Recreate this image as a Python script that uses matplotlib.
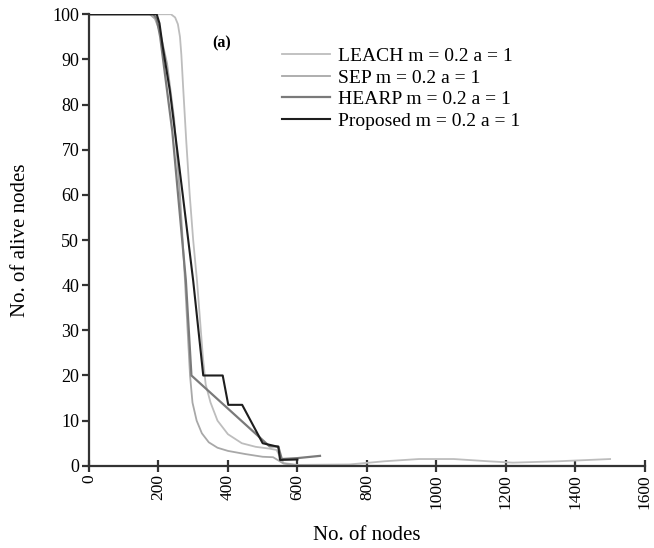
import matplotlib
matplotlib.use("Agg")
import matplotlib.pyplot as plt

plt.rcParams['font.family'] = ['Liberation Serif', 'DejaVu Serif']

# Data
leach_x = [0, 236, 248, 256, 262, 266, 271, 280, 290, 300, 311, 320, 328, 336, 350, 370, 400, 440, 480, 520, 540, 550, 560, 600, 750, 850, 950, 1050, 1150, 1220, 1350, 1500]
leach_y = [100, 100, 99.3, 97.8, 95, 91, 84, 72, 60, 50, 41, 32, 24, 18, 14, 10, 7, 5, 4.2, 3.8, 3.5, 2.0, 0.6, 0.2, 0.3, 1.0, 1.5, 1.5, 1.0, 0.7, 1.0, 1.5]

sep_x = [0, 175, 190, 205, 225, 245, 262, 275, 284, 291, 298, 310, 325, 345, 370, 400, 450, 500, 530, 545, 560, 600, 800, 1000, 1200, 1400]
sep_y = [100, 100, 99, 96, 89, 77, 60, 43, 30, 20, 14, 10, 7.2, 5.2, 4.0, 3.3, 2.6, 2.0, 1.9, 1.2, 0.5, 0.1, 0, 0, 0, 0]

hearp_x = [0, 185, 195, 205, 240, 279, 295, 520, 545, 555, 600, 665]
hearp_y = [100, 100, 99, 95, 74, 41, 20, 4.3, 4.3, 1.5, 1.7, 2.2]

prop_x = [0, 195, 203, 212, 233, 270, 300, 329, 385, 401, 441, 500, 545, 550, 600]
prop_y = [100, 100, 98, 93, 83, 60, 41, 20, 20, 13.5, 13.5, 5.0, 4.2, 1.3, 1.4]

labels = ["LEACH m = 0.2 a = 1", "SEP m = 0.2 a = 1", "HEARP m = 0.2 a = 1", "Proposed m = 0.2 a = 1"]
xticks = [0, 200, 400, 600, 800, 1000, 1200, 1400, 1600]
yticks = [0, 10, 20, 30, 40, 50, 60, 70, 80, 90, 100]

fig = plt.figure(figsize=(6.54, 5.48), dpi=100)
ax = fig.add_axes([0.136, 0.150, 0.850, 0.824])

ax.plot(leach_x, leach_y, color='#bdbdbd', lw=1.3, label=labels[0])
ax.plot(sep_x, sep_y, color='#a8a8a8', lw=1.3, label=labels[1])
ax.plot(hearp_x, hearp_y, color='#7a7a7a', lw=1.6, label=labels[2])
ax.plot(prop_x, prop_y, color='#1e1e1e', lw=1.5, label=labels[3])

ax.set_xlim(0, 1600)
ax.set_ylim(0, 100)
ax.set_xticks(xticks)
ax.set_yticks(yticks)
ax.set_xticklabels([str(v) for v in xticks], rotation=90, fontsize=12.5)
ax.set_yticklabels([str(v) for v in yticks], fontsize=13)

for s in ['top', 'right']:
    ax.spines[s].set_visible(False)
for s in ['left', 'bottom']:
    ax.spines[s].set_color('#333333')
    ax.spines[s].set_linewidth(1.6)
ax.tick_params(axis='x', direction='inout', length=8, width=1.6, color='#333333', pad=2)
ax.tick_params(axis='y', direction='out', length=5, width=1.6, color='#333333', pad=2)

ax.set_xlabel("No. of nodes", fontsize=15, labelpad=12)
ax.set_ylabel("No. of alive nodes", fontsize=15, labelpad=16)

ax.text(383, 93.5, "(a)", fontsize=11.5, fontweight='bold', ha='center', va='center')

leg = ax.legend(loc='upper left', bbox_to_anchor=(0.315, 0.965), frameon=False,
                fontsize=14, handlelength=2.5, handletextpad=0.4, labelspacing=0.2)

fig.savefig("out.png", dpi=100)
